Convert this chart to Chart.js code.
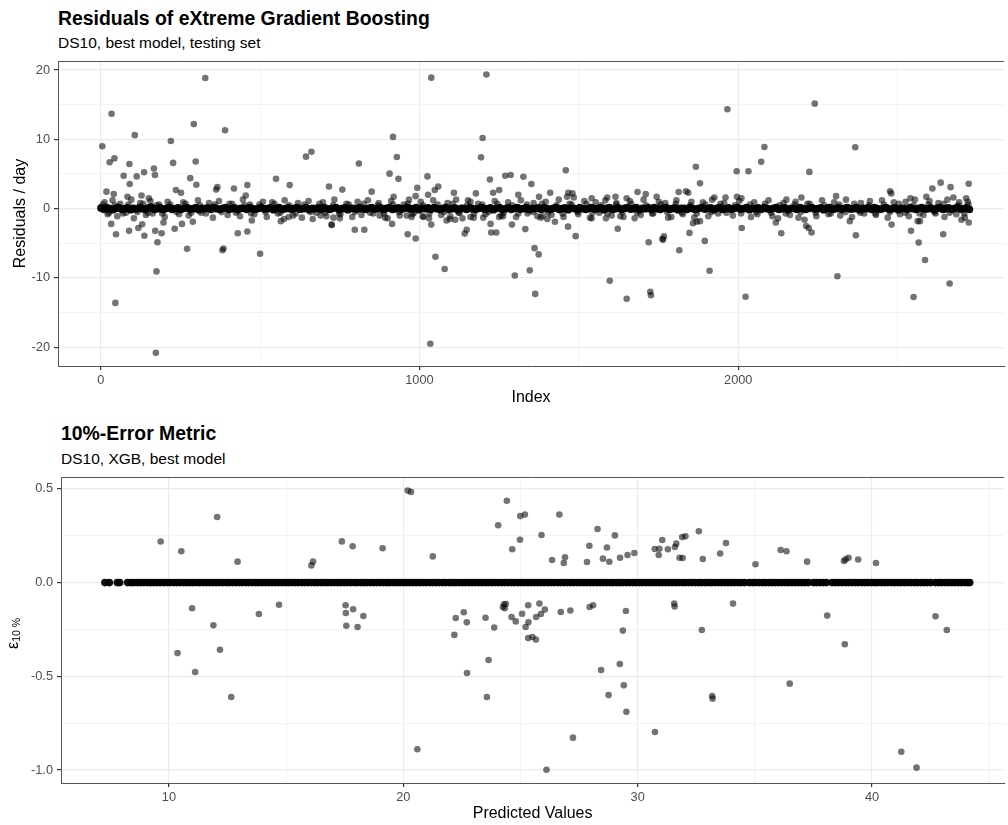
<!DOCTYPE html>
<html>
<head>
<meta charset="utf-8">
<script src="https://cdn.jsdelivr.net/npm/chart.js@4.4.1/dist/chart.umd.min.js"></script>
<style>
  body { margin: 0; background: #fff; }
  #page { position: relative; width: 1008px; height: 825px; overflow: hidden; font-family: "Liberation Sans", Arial, sans-serif; }
  canvas { position: absolute; left: 0; }
  .title { position: absolute; font-weight: bold; font-size: 19.4px; line-height: 19.4px; white-space: nowrap; color: #000; }
  .subtitle { position: absolute; font-size: 15.5px; line-height: 15.5px; white-space: nowrap; color: #000; }
  #epsLabel { position: absolute; left: 4.8px; top: 649px; font-size: 16px; line-height: 16px; white-space: nowrap; transform: rotate(-90deg); transform-origin: left top; color: #000; }
  #epsLabel .sub { font-size: 10.5px; position: relative; top: 2px; }
</style>
</head>
<body>
<div id="page">
  <div class="title" style="left:58px; top:8.6px">Residuals of eXtreme Gradient Boosting</div>
  <div class="subtitle" style="left:58px; top:35.2px">DS10, best model, testing set</div>
  <canvas id="residChart" width="1008" height="410" style="top:0"></canvas>
  <div class="title" style="left:61px; top:423.6px">10%-Error Metric</div>
  <div class="subtitle" style="left:61px; top:451.2px">DS10, XGB, best model</div>
  <canvas id="errorChart" width="1008" height="415" style="top:410px"></canvas>
  <div id="epsLabel">ε<span class="sub">10 %</span></div>
</div>
<script>
// Residuals panel: [index, residual]
const residualOutliers = [
  [5, 9.0], [34, 13.7], [328, 18.85], [28, 6.7], [43, 7.25], [107, 10.6], [292, 12.2], [390, 11.3],
  [220, 9.75], [227, 6.6], [298, 6.8], [90, 6.45], [72, 4.75], [113, 4.65], [136, 5.25], [167, 5.8],
  [170, 4.85], [91, 3.55], [281, 4.4], [300, 3.45], [18, 2.45], [41, 2.1], [236, 2.7], [252, 2.3],
  [366, 3.1], [362, 2.75], [418, 2.9], [460, 3.4], [455, 1.9], [644, 7.5], [661, 8.2], [550, 4.3],
  [593, 3.4], [716, 3.2], [84, 1.7], [128, 1.9], [151, 1.5],
  [33, -2.2], [48, -3.7], [89, -3.2], [118, -2.8], [130, -2.25], [137, -3.9], [171, -3.2], [178, -4.85],
  [191, -3.55], [197, -2.0], [175, -9.05], [46, -13.6], [173, -20.8], [232, -2.9], [255, -2.2], [271, -5.8],
  [289, -1.9], [382, -6.0], [385, -5.75], [430, -3.55], [460, -3.3], [474, -1.7], [500, -6.5], [565, -1.8],
  [575, -1.5], [590, -1.2], [725, -2.35], [665, -1.5], [690, -1.0],
  [1037, 18.9], [1210, 19.35], [917, 10.35], [929, 7.45], [810, 6.5], [906, 5.05], [934, 4.3], [1025, 4.65],
  [1198, 10.2], [1193, 7.4], [1221, 4.2], [1269, 4.75], [1286, 4.85], [1326, 4.6], [1351, 3.55], [1459, 5.55],
  [1059, 3.2], [993, 3.0], [1684, 2.4], [1710, 2.1], [1744, 1.7], [1467, 2.3], [1480, 2.2],
  [724, -2.3], [797, -3.05], [827, -3.05], [963, -3.7], [988, -4.3], [1037, -2.3], [1050, -6.95], [1079, -8.7],
  [1034, -19.5], [914, -2.2], [1142, -3.6], [1148, -3.05], [1223, -2.2], [1225, -3.45], [1241, -3.45], [1290, -2.3],
  [1332, -2.95], [1361, -5.7], [1374, -6.6], [1299, -9.65], [1346, -8.9], [1363, -12.3], [1401, -1.5], [1425, -1.9],
  [1466, -2.6], [1490, -3.97], [1597, -10.4], [1650, -13.0], [1724, -12.0], [1726, -12.5], [1719, -4.85], [1622, -2.9],
  [1640, -1.2], [1675, -1.4], [1762, -4.35],
  [1966, 14.35], [2240, 15.15], [2082, 8.9], [2072, 6.75], [1995, 5.4], [2032, 5.4], [1867, 6.05], [1880, 3.65],
  [2223, 5.3], [2367, 8.85], [1813, 2.4], [1836, 2.5], [1843, 2.3], [2198, 1.6], [2307, 1.8], [2476, 2.5],
  [2480, 2.2], [2609, 2.9], [2635, 3.75], [2666, 3.1], [2723, 3.6], [2590, 1.7], [2540, 1.5], [2675, 1.6],
  [2715, 1.5], [1996, 1.7], [2010, 1.5], [1960, 1.6], [1925, 1.6],
  [1780, -1.3], [1764, -4.5], [1767, -4.0], [1815, -6.0], [1847, -3.5], [1858, -2.1], [1870, -1.9], [1880, -1.8],
  [1895, -4.65], [1910, -8.95], [2011, -2.8], [2023, -12.7], [2135, -3.55], [2118, -2.0], [2125, -1.4], [2208, -1.6],
  [2213, -2.5], [2221, -2.8], [2230, -3.45], [2311, -9.75], [2350, -1.8], [2369, -3.85], [2481, -2.3], [2542, -3.2],
  [2563, -1.8], [2570, -1.8], [2566, -4.9], [2586, -7.4], [2550, -12.75], [2643, -3.7], [2663, -10.8], [2700, -1.6],
  [2723, -2.0]
]

const residualSpread = [
  [12, 0.9], [22, -0.8], [37, 1.2], [52, -1.1], [61, 0.7], [79, -0.6], [96, 1.3], [104, -1.4], [124, 0.8], [142, -0.9],
  [156, 1.1], [163, -0.7], [183, 0.6], [201, -1.2], [210, 1.0], [246, -0.8], [259, 0.9], [276, -1.0], [305, 1.2], [315, -0.6],
  [340, 0.8], [352, -1.3], [371, 1.1], [398, -0.9], [412, 0.7], [437, -1.1], [446, 1.3], [468, 0.6], [482, -0.8], [509, 1.0],
  [521, -1.2], [538, 0.9], [556, -0.7], [577, 1.2], [604, -1.0], [619, 0.8], [631, -1.3], [652, 1.1], [676, -0.6], [697, 0.9],
  [708, -1.1], [733, 1.3], [752, -0.8], [771, 0.7], [789, -1.2], [806, 1.0], [818, -0.9], [838, 1.2], [855, -0.7], [872, 0.8],
  [892, -1.3], [911, 1.1], [938, -1.0], [951, 0.6], [967, 1.3], [978, -0.8], [1004, 1.0], [1013, -1.2], [1043, 1.2], [1068, -0.9],
  [1088, 0.8], [1097, -1.1], [1115, 1.3], [1126, -0.6], [1160, 1.0], [1170, -1.3], [1184, 0.7], [1207, -0.8], [1236, 1.1], [1256, -1.0],
  [1278, 0.9], [1303, -1.2], [1318, 1.2], [1339, -0.7], [1358, 0.8], [1386, -1.1], [1396, 1.0], [1414, -0.9], [1437, 1.3], [1452, -1.2],
  [1471, 0.7], [1498, -0.8], [1517, 1.1], [1535, -1.3], [1553, 0.9], [1564, -0.6], [1583, 1.2], [1603, -1.0], [1618, 0.8], [1630, -1.1],
  [1660, 1.1], [1694, -0.9], [1703, 1.3], [1733, -0.7], [1751, 1.0], [1771, 0.8], [1790, -1.2], [1806, 1.2], [1826, -0.8], [1853, 1.0],
  [1862, -1.3], [1889, 0.9], [1906, -1.1], [1918, 1.3], [1937, -0.7], [1956, 0.8], [1983, -1.0], [2003, 1.1], [2040, -1.2], [2050, 0.9],
  [2060, -0.8], [2095, 1.2], [2107, -1.1], [2142, 0.8], [2151, 1.3], [2162, -0.9], [2180, 1.0], [2189, -1.3], [2217, 0.7], [2245, -1.1],
  [2263, 1.2], [2283, -0.8], [2301, 0.9], [2320, -1.0], [2338, 1.3], [2357, -1.2], [2385, 0.8], [2395, -0.7], [2413, 1.1], [2432, -0.9],
  [2451, 1.2], [2469, -1.3], [2488, 0.9], [2507, -0.8], [2525, 1.0], [2535, -1.1], [2554, 1.3], [2581, -0.9], [2600, 1.1], [2619, -0.7],
  [2628, 0.8], [2647, -1.2], [2656, 1.3], [2684, -0.8], [2693, 0.9], [2711, -1.3], [2720, 1.0],
  [850, 2.45], [758, 2.75], [919, 1.7], [988, 1.8], [1027, 2.0], [1048, 2.7], [1108, 2.3], [1152, 1.2], [1177, 2.2], [1231, 2.3],
  [1250, 2.7], [1310, 2.0], [1375, 1.7], [1410, 2.3], [1463, 1.7], [1484, 1.6], [1540, 1.5], [1589, 1.6], [1615, 1.7], [1650, 1.5],
  [730, -1.3], [750, -1.4], [875, -1.0], [900, -1.4], [960, -1.0], [975, -1.2], [1010, -1.1], [1030, -1.4], [1085, -1.7], [1095, -1.5],
  [1112, -1.6], [1135, -1.4], [1160, -1.2], [1200, -1.3], [1250, -1.2], [1262, -1.1], [1370, -1.1], [1380, -1.3], [1540, -1.4], [1585, -1.4],
  [7, 0.6], [26, -0.6], [44, 0.5], [70, -0.7], [87, 0.6], [115, -0.5], [133, 0.7], [148, -0.6], [176, 0.5], [193, -0.7],
  [218, 0.6], [238, -0.5], [266, 0.7], [284, -0.6], [311, 0.5], [330, -0.7], [358, 0.6], [379, -0.5], [404, 0.7], [424, -0.6],
  [451, 0.5], [472, -0.7], [498, 0.6], [517, -0.5], [545, 0.7], [563, -0.6], [591, 0.5], [612, -0.7], [639, 0.6], [658, -0.5],
  [686, 0.7], [704, -0.6], [729, 0.5], [748, -0.7], [778, 0.6], [797, -0.5], [825, 0.7], [845, -0.6], [869, 0.5], [889, -0.7],
  [917, 0.6], [936, -0.5], [964, 0.7], [983, -0.6], [1011, 0.5], [1031, -0.7], [1057, 0.6], [1077, -0.5], [1104, 0.7], [1123, -0.6],
  [1150, 0.5], [1171, -0.7], [1197, 0.6], [1216, -0.5], [1244, 0.7], [1264, -0.6], [1291, 0.5], [1310, -0.7], [1337, 0.6], [1357, -0.5],
  [1384, 0.7], [1403, -0.6], [1430, 0.5], [1449, -0.7], [1477, 0.6], [1496, -0.5], [1524, 0.7], [1543, -0.6], [1571, 0.5], [1590, -0.7],
  [1617, 0.6], [1637, -0.5], [1664, 0.7], [1683, -0.6], [1711, 0.5], [1730, -0.7], [1757, 0.6], [1777, -0.5], [1804, 0.7], [1823, -0.6],
  [1850, 0.5], [1870, -0.7], [1897, 0.6], [1916, -0.5], [1944, 0.7], [1963, -0.6], [1990, 0.5], [2009, -0.7], [2037, 0.6], [2056, -0.5],
  [2084, 0.7], [2103, -0.6], [2130, 0.5], [2149, -0.7], [2177, 0.6], [2196, -0.5], [2224, 0.7], [2243, -0.6], [2270, 0.5], [2290, -0.7],
  [2317, 0.6], [2336, -0.5], [2364, 0.7], [2383, -0.6], [2410, 0.5], [2430, -0.7], [2457, 0.6], [2476, -0.5], [2504, 0.7], [2523, -0.6],
  [2550, 0.5], [2569, -0.7], [2597, 0.6], [2616, -0.5], [2644, 0.7], [2663, -0.6], [2690, 0.5], [2709, -0.7], [2722, 0.6]
]

const residualCore = [
  [1, 0.1], [10, -0.1], [19, 0.15], [28, 0], [38, -0.15], [47, 0.05], [56, 0.15], [66, -0.1], [75, 0], [84, 0.1],
  [94, -0.15], [103, 0.05], [112, -0.05], [122, 0.15], [131, 0], [140, -0.1], [150, 0.1], [159, 0.2], [168, -0.1], [178, 0],
  [187, 0.1], [196, -0.15], [206, 0.05], [215, 0.15], [224, -0.1], [234, 0], [243, 0.1], [252, -0.1], [262, 0.05], [271, 0.15],
  [280, -0.05], [290, 0], [299, 0.15], [308, -0.15], [318, 0.05], [327, 0], [336, 0.1], [346, -0.1], [355, 0.15], [364, 0],
  [374, -0.1], [383, 0.05], [392, 0.15], [402, -0.1], [411, 0], [420, 0.1], [430, -0.15], [439, 0.05], [448, 0.05], [458, -0.1],
  [467, 0.15], [476, 0], [486, -0.1], [495, 0.05], [504, 0.15], [514, -0.05], [523, 0], [532, 0.1], [542, -0.15], [551, 0.05],
  [560, 0.15], [570, -0.1], [579, 0], [588, 0.1], [598, -0.1], [607, 0.05], [616, 0.15], [626, -0.05], [635, 0], [644, 0.15],
  [654, -0.15], [663, 0.05], [672, 0], [682, 0.1], [691, -0.1], [700, 0.15], [710, 0], [719, -0.1], [728, 0.05], [738, 0.15],
  [747, -0.1], [756, 0], [766, 0.1], [775, -0.15], [784, 0.05], [794, 0.05], [803, -0.1], [812, 0.15], [822, 0], [831, -0.1],
  [840, 0.05], [850, 0.15], [859, -0.05], [868, 0], [878, 0.1], [887, -0.15], [896, 0.05], [906, 0.15], [915, -0.1], [924, 0],
  [934, 0.1], [943, -0.1], [952, 0.05], [962, 0.15], [971, -0.05], [980, 0], [990, 0.15], [999, -0.15], [1008, 0.05], [1018, 0],
  [1027, 0.1], [1036, -0.1], [1046, 0.15], [1055, 0], [1064, -0.1], [1074, 0.05], [1083, 0.15], [1092, -0.1], [1102, 0], [1111, 0.1],
  [1120, -0.15], [1130, 0.05], [1139, 0.05], [1148, -0.1], [1158, 0.15], [1167, 0], [1176, -0.1], [1186, 0.05], [1195, 0.15], [1204, -0.05],
  [1214, 0], [1223, 0.1], [1232, -0.15], [1242, 0.05], [1251, 0.15], [1260, -0.1], [1270, 0], [1279, 0.1], [1288, -0.1], [1298, 0.05],
  [1307, 0.15], [1316, -0.05], [1326, 0], [1335, 0.15], [1344, -0.15], [1354, 0.05], [1363, 0], [1372, 0.1], [1382, -0.1], [1391, 0.15],
  [1400, 0], [1410, -0.1], [1419, 0.05], [1428, 0.15], [1438, -0.1], [1447, 0], [1456, 0.1], [1466, -0.15], [1475, 0.05], [1484, 0.05],
  [1494, -0.1], [1503, 0.15], [1512, 0], [1522, -0.1], [1531, 0.05], [1540, 0.15], [1550, -0.05], [1559, 0], [1568, 0.1], [1578, -0.15],
  [1587, 0.05], [1596, 0.15], [1606, -0.1], [1615, 0], [1624, 0.1], [1634, -0.1], [1643, 0.05], [1652, 0.15], [1662, -0.05], [1671, 0],
  [1680, 0.15], [1690, -0.15], [1699, 0.05], [1708, 0], [1718, 0.1], [1727, -0.1], [1736, 0.15], [1746, 0], [1755, -0.1], [1764, 0.05],
  [1774, 0.15], [1783, -0.1], [1792, 0], [1802, 0.1], [1811, -0.15], [1820, 0.05], [1830, 0.05], [1839, -0.1], [1848, 0.15], [1858, 0],
  [1867, -0.1], [1876, 0.05], [1886, 0.15], [1895, -0.05], [1904, 0], [1914, 0.1], [1923, -0.15], [1932, 0.05], [1942, 0.15], [1951, -0.1],
  [1960, 0], [1970, 0.1], [1979, -0.1], [1988, 0.05], [1998, 0.15], [2007, -0.05], [2016, 0], [2026, 0.15], [2035, -0.15], [2044, 0.05],
  [2054, 0], [2063, 0.1], [2072, -0.1], [2082, 0.15], [2091, 0], [2100, -0.1], [2110, 0.05], [2119, 0.15], [2128, -0.1], [2138, 0],
  [2147, 0.1], [2156, -0.15], [2166, 0.05], [2175, 0.05], [2184, -0.1], [2194, 0.15], [2203, 0], [2212, -0.1], [2222, 0.05], [2231, 0.15],
  [2240, -0.05], [2250, 0], [2259, 0.1], [2268, -0.15], [2278, 0.05], [2287, 0.15], [2296, -0.1], [2306, 0], [2315, 0.1], [2324, -0.1],
  [2334, 0.05], [2343, 0.15], [2352, -0.05], [2362, 0], [2371, 0.15], [2380, -0.15], [2390, 0.05], [2399, 0], [2408, 0.1], [2418, -0.1],
  [2427, 0.15], [2436, 0], [2446, -0.1], [2455, 0.05], [2464, 0.15], [2474, -0.1], [2483, 0], [2492, 0.1], [2502, -0.15], [2511, 0.05],
  [2520, 0.05], [2530, -0.1], [2539, 0.15], [2548, 0], [2558, -0.1], [2567, 0.05], [2576, 0.15], [2586, -0.05], [2595, 0], [2604, 0.1],
  [2614, -0.15], [2623, 0.05], [2632, 0.15], [2642, -0.1], [2651, 0], [2660, 0.1], [2670, -0.1], [2679, 0.05], [2688, 0.15], [2698, -0.05],
  [2707, 0], [2716, 0.1], [2725, -0.1]
]

const indexTicks = [0, 1000, 2000]
const indexMinorTicks = [500, 1500, 2500]
const residualTicks = [-20, -10, 0, 10, 20]
const residualMinorTicks = [-15, -5, 5, 15]

// 10%-error panel: predicted values whose error is 0, and [predicted, error] for the rest
const predictedZero = [
  7.27, 7.46, 7.8, 7.9,
  8.24, 8.38, 8.51, 8.66, 8.8, 8.93, 9.08, 9.22, 9.35, 9.5, 9.63, 9.78, 9.92, 10.05, 10.2, 10.34,
  10.47, 10.62, 10.76, 10.9, 11.03, 11.18, 11.31, 11.46, 11.6, 11.73, 11.88, 12.02, 12.15, 12.3, 12.44, 12.57,
  12.72, 12.86, 13.0, 13.13, 13.28, 13.41, 13.56, 13.7, 13.83, 13.98, 14.12, 14.25, 14.4, 14.54, 14.67, 14.82,
  14.96, 15.1, 15.23, 15.38, 15.51, 15.66, 15.8, 15.93, 16.08, 16.22, 16.35, 16.5, 16.64, 16.77, 16.92, 17.06,
  17.2, 17.33, 17.48, 17.61, 17.76, 17.9, 18.03, 18.18, 18.32, 18.45, 18.6, 18.74, 18.87, 19.02, 19.16, 19.3,
  19.43, 19.58, 19.71, 19.86, 20.0, 20.13, 20.28, 20.42, 20.55, 20.7, 20.84, 20.97, 21.12, 21.26, 21.4, 21.53,
  21.68, 21.81, 21.96, 22.1, 22.23, 22.38, 22.52, 22.65, 22.8, 22.94, 23.07, 23.22, 23.36, 23.5, 23.63, 23.78,
  23.91, 24.06, 24.2, 24.33, 24.48, 24.62, 24.75, 24.9, 25.04, 25.17, 25.32, 25.46, 25.6, 25.73, 25.88, 26.01,
  26.16, 26.3, 26.43, 26.58, 26.72, 26.85, 27.0, 27.14, 27.27, 27.42, 27.56, 27.7, 27.83, 27.98, 28.11, 28.26,
  28.4, 28.53, 28.68, 28.82, 28.95, 29.1, 29.24, 29.37, 29.52, 29.66, 29.8, 29.93, 30.08, 30.21, 30.36, 30.5,
  30.63, 30.78, 30.92, 31.05, 31.2, 31.34, 31.47, 31.62, 31.76, 31.9, 32.03, 32.18, 32.31, 32.46, 32.6, 32.73,
  32.88, 33.02, 33.15, 33.3, 33.44, 33.57, 33.72, 33.86, 34.0, 34.13, 34.28, 34.41, 34.56, 34.76, 34.9, 35.03,
  35.18, 35.32, 35.45, 35.6, 35.74, 35.87, 36.02, 36.16, 36.3, 36.43, 36.58, 36.71, 36.86, 37.0, 37.13, 37.28,
  37.5, 37.63, 37.78, 37.92, 38.05, 38.3, 38.44, 38.57, 38.72, 38.86, 39.0, 39.13, 39.28, 39.41, 39.56, 39.7,
  39.83, 39.98, 40.12, 40.25, 40.4, 40.54, 40.67, 40.82, 40.96, 41.1, 41.23, 41.38, 41.51, 41.66, 41.8, 41.93,
  42.08, 42.22, 42.35, 42.5, 42.7, 42.84, 42.97, 43.12, 43.26, 43.4, 43.53, 43.68, 43.81, 43.96, 44.08, 44.17
]

const errorPoints = [
  [9.65, 0.219], [10.53, 0.167], [12.06, 0.35], [12.93, 0.112], [16.08, 0.092], [16.15, 0.112], [17.38, 0.22], [17.84, 0.194],
  [19.12, 0.183], [20.19, 0.491], [20.33, 0.484], [21.26, 0.14], [24.42, 0.437], [24.05, 0.306], [24.99, 0.355], [25.19, 0.363],
  [24.98, 0.229], [24.65, 0.178], [25.9, 0.254], [26.66, 0.363], [26.35, 0.121], [26.9, 0.135], [26.85, 0.105], [27.84, 0.11],
  [27.94, 0.197], [28.29, 0.286], [28.69, 0.187], [28.52, 0.128], [28.79, 0.111], [29.03, 0.252], [29.25, 0.133], [29.57, 0.147],
  [29.86, 0.158], [30.73, 0.179], [30.93, 0.181], [31.05, 0.227], [30.9, 0.147], [31.29, 0.178], [31.59, 0.19], [31.65, 0.208],
  [31.9, 0.243], [32.04, 0.247], [31.79, 0.133], [31.92, 0.131], [32.61, 0.274], [32.78, 0.126], [33.52, 0.155], [33.77, 0.211],
  [35.03, 0.098], [36.1, 0.174], [36.35, 0.167], [37.23, 0.112], [38.8, 0.115], [38.87, 0.124], [39.0, 0.133], [39.41, 0.123],
  [40.17, 0.105],
  [10.99, -0.137], [10.37, -0.376], [11.12, -0.477], [11.9, -0.228], [12.18, -0.358], [12.66, -0.61], [13.84, -0.167], [14.7, -0.118],
  [17.54, -0.121], [17.55, -0.162], [17.57, -0.23], [17.86, -0.142], [18.05, -0.237], [18.3, -0.178], [20.6, -0.889], [22.18, -0.279],
  [22.24, -0.189], [22.58, -0.158], [22.71, -0.212], [22.72, -0.482], [23.51, -0.187], [23.64, -0.413], [23.57, -0.61], [23.88, -0.24],
  [24.25, -0.13], [24.3, -0.116], [24.38, -0.114], [24.33, -0.137], [24.62, -0.183], [24.8, -0.207], [25.07, -0.166], [25.33, -0.121],
  [25.22, -0.237], [25.34, -0.212], [25.33, -0.296], [25.51, -0.29], [25.66, -0.304], [25.67, -0.183], [25.81, -0.112], [25.87, -0.167],
  [26.04, -0.144], [26.11, -0.998], [26.72, -0.157], [27.13, -0.149], [27.24, -0.827], [27.95, -0.13], [28.1, -0.121], [28.44, -0.466],
  [28.76, -0.6], [29.24, -0.434], [29.37, -0.256], [29.5, -0.151], [29.41, -0.548], [29.52, -0.689], [30.74, -0.797], [31.56, -0.112],
  [31.58, -0.127], [32.74, -0.253], [33.18, -0.605], [33.2, -0.619], [34.07, -0.112], [36.49, -0.539], [38.09, -0.176], [38.84, -0.329],
  [41.25, -0.902], [41.9, -0.987], [42.71, -0.18], [43.19, -0.253]
]

const predictedTicks = [10, 20, 30, 40]
const predictedMinorTicks = [15, 25, 35, 45]
const errorTicks = [-1, -0.5, 0, 0.5]
const errorMinorTicks = [-0.75, -0.25, 0.25]

const FONT = '"Liberation Sans", Arial, sans-serif'
Chart.defaults.font.family = FONT

const toXY = (pairs) => pairs.map(([x, y]) => ({ x, y }))

// ggplot-like axis: major ticks labelled, minor ones only as faint grid lines
function makeAxis(opts) {
  const { min, max, major, minor, format, size, title, titlePad } = opts
  const vertical = opts.vertical
  return {
    type: "linear",
    min,
    max,
    afterBuildTicks: (axis) => {
      axis.ticks = major.concat(minor).sort((a, b) => a - b).map((v) => ({ value: v }))
    },
    afterFit: (axis) => {
      if (vertical) axis.width = size
      else axis.height = size
    },
    grid: {
      color: (c) => (major.includes(c.tick?.value) ? "#ebebeb" : "#f3f3f3"),
      lineWidth: (c) => (major.includes(c.tick?.value) ? 1.2 : 1),
      tickColor: (c) => (major.includes(c.tick?.value) ? "#333333" : "rgba(0,0,0,0)"),
      tickLength: 4,
      drawTicks: true,
    },
    border: { display: true, color: "#555555", width: 1 },
    ticks: {
      autoSkip: false,
      maxRotation: 0,
      padding: vertical ? 4 : 3,
      color: "#4d4d4d",
      font: { size: 12.8 },
      callback: (v) => (major.includes(v) ? format(v) : ""),
    },
    title: {
      display: !!title,
      text: title || "",
      color: "#000",
      font: { size: 16, lineHeight: 1.2 },
      padding: titlePad,
    },
  }
}

// top edge of the panel border (ggplot draws a full box)
const panelTop = {
  id: "panelTop",
  beforeDatasetsDraw(chart) {
    const { ctx, chartArea: a } = chart
    ctx.save()
    ctx.strokeStyle = "#555555"
    ctx.lineWidth = 1
    ctx.beginPath()
    ctx.moveTo(a.left, a.top + 0.5)
    ctx.lineTo(a.right, a.top + 0.5)
    ctx.stroke()
    ctx.restore()
  },
}

const pointStyle = (color, radius) => ({
  backgroundColor: color,
  borderWidth: 0,
  pointRadius: radius,
  pointHoverRadius: radius,
})

const baseOptions = (padTop, scales) => ({
  responsive: false,
  animation: false,
  events: [],
  layout: { padding: { top: padTop, left: 0, right: 0, bottom: 0 } },
  plugins: { legend: { display: false }, tooltip: { enabled: false } },
  scales,
})

new Chart(document.getElementById("residChart"), {
  type: "scatter",
  data: {
    datasets: [
      { data: toXY(residualOutliers), ...pointStyle("rgba(0,0,0,0.55)", 3.3) },
      { data: toXY(residualSpread), ...pointStyle("rgba(0,0,0,0.55)", 3.3) },
      { data: toXY(residualCore), ...pointStyle("rgba(0,0,0,0.95)", 3.9) },
    ],
  },
  options: baseOptions(61, {
    x: makeAxis({
      min: -134, max: 2834, major: indexTicks, minor: indexMinorTicks,
      format: (v) => String(v), size: 44, title: "Index", titlePad: { top: 0, bottom: 2.6 },
    }),
    y: makeAxis({
      vertical: true, min: -22.7, max: 21.3, major: residualTicks, minor: residualMinorTicks,
      format: (v) => String(v), size: 58, title: "Residuals / day", titlePad: { top: 10.9, bottom: 0 },
    }),
  }),
  plugins: [panelTop],
})

new Chart(document.getElementById("errorChart"), {
  type: "scatter",
  data: {
    datasets: [
      { data: toXY(errorPoints), ...pointStyle("rgba(0,0,0,0.55)", 3.3) },
      { data: predictedZero.map((x) => ({ x, y: 0 })), ...pointStyle("rgba(0,0,0,0.95)", 3.8) },
    ],
  },
  options: baseOptions(67, {
    x: makeAxis({
      min: 5.397, max: 45.64, major: predictedTicks, minor: predictedMinorTicks,
      format: (v) => String(v), size: 42, title: "Predicted Values", titlePad: { top: 0, bottom: 1.6 },
    }),
    y: makeAxis({
      vertical: true, min: -1.069, max: 0.5635, major: errorTicks, minor: errorMinorTicks,
      format: (v) => v.toFixed(1), size: 61, title: "", titlePad: 0,
    }),
  }),
  plugins: [panelTop],
})
</script>
</body>
</html>
